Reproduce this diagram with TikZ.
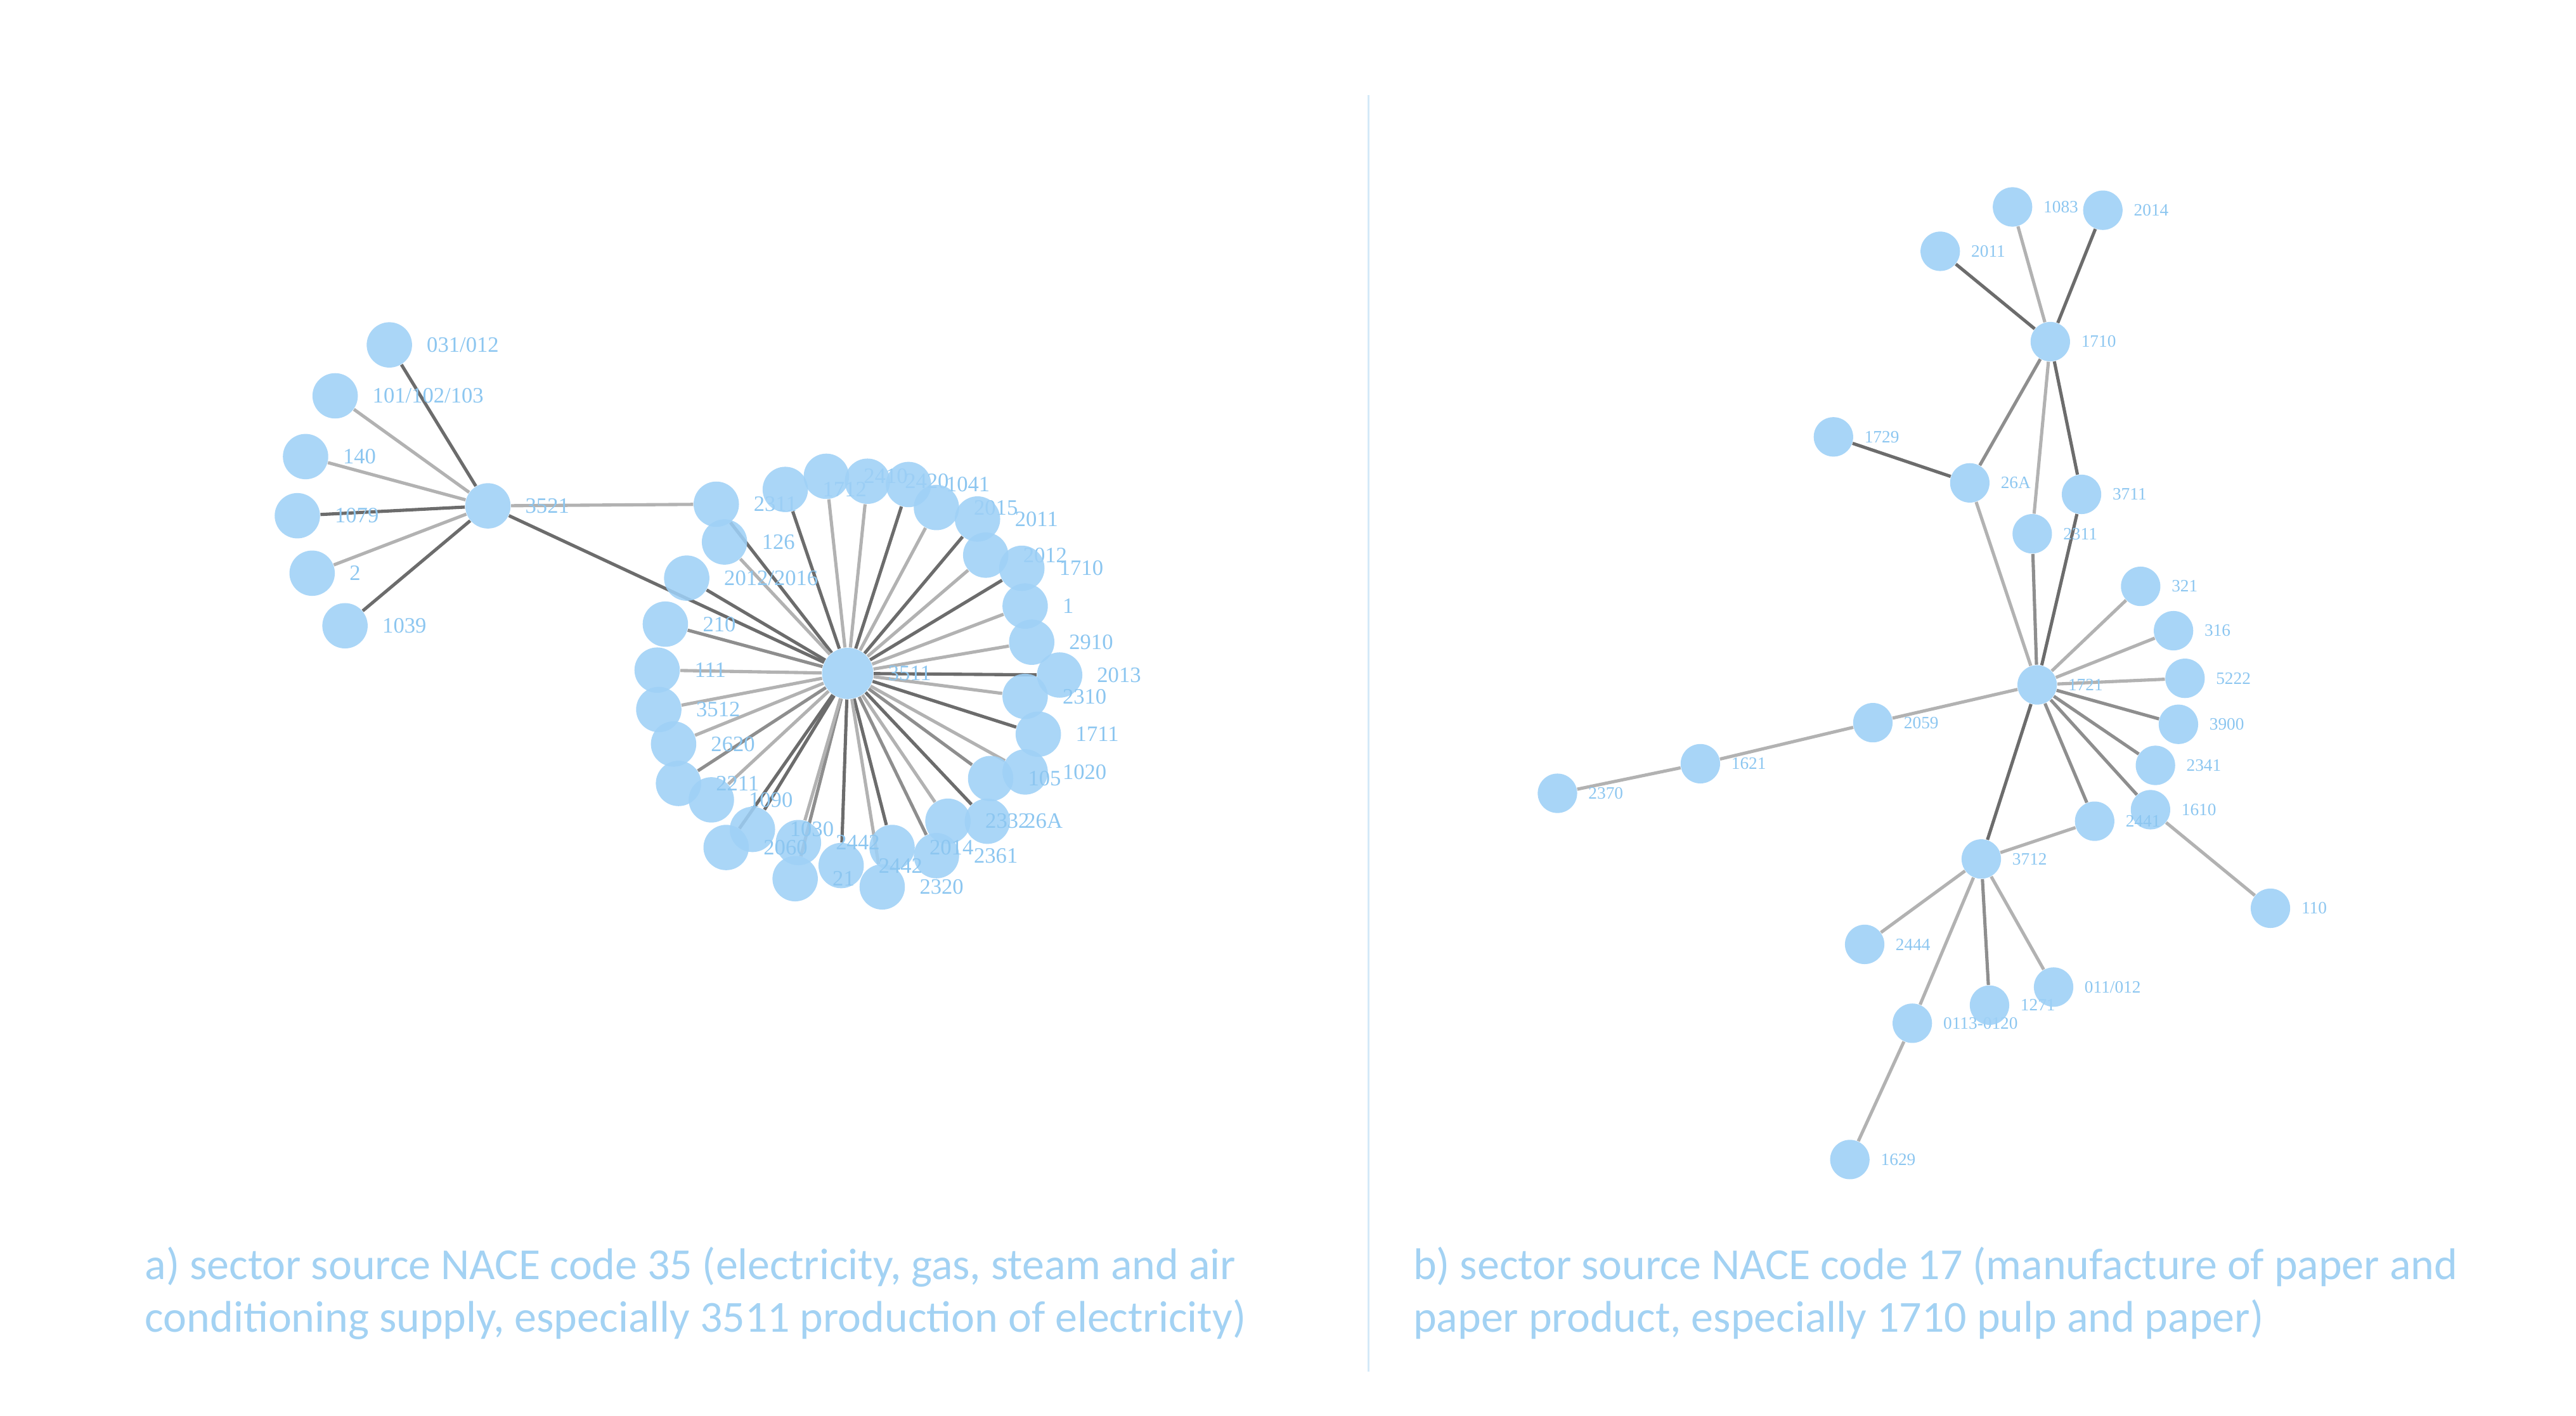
\documentclass[tikz,border=0pt]{standalone}
\usepackage{fontspec}
\setmainfont{Liberation Serif}
\newfontfamily\capfont{Carlito}
\pgfdeclarelayer{background}
\pgfsetlayers{background,main}
\definecolor{nodeblue}{RGB}{158,208,246}
\definecolor{labelblue}{RGB}{140,198,240}
\definecolor{capblue}{RGB}{163,210,243}
\definecolor{sepblue}{RGB}{212,233,248}
\definecolor{edk}{RGB}{108,108,108}
\definecolor{emd}{RGB}{142,142,142}
\definecolor{elt}{RGB}{178,178,178}
\tikzset{
  lnode/.style={circle,fill=nodeblue,fill opacity=0.88,draw=none,minimum size=0.69cm,inner sep=0pt},
  hnode/.style={circle,fill=nodeblue,fill opacity=0.88,draw=none,minimum size=0.78cm,inner sep=0pt},
  rnode/.style={circle,fill=nodeblue,fill opacity=0.9,draw=none,minimum size=0.6cm,inner sep=0pt},
  ltxt/.style={text=labelblue,font=\fontsize{9.5}{10.5}\selectfont,inner sep=0pt,label distance=6pt},
  rtxt/.style={text=labelblue,font=\fontsize{7.5}{8.5}\selectfont,inner sep=0pt,label distance=4.5pt},
  dk/.style={draw=edk,line width=1.4pt},
  md/.style={draw=emd,line width=1.4pt},
  lt/.style={draw=elt,line width=1.4pt},
  captxt/.style={text=capblue,font=\capfont\fontsize{19.2}{23}\selectfont,inner sep=0pt,anchor=base west}
}
\begin{document}
\begin{tikzpicture}[x=0.025cm,y=-0.025cm]
\useasboundingbox (0,0) rectangle (1568,862);
\draw[sepblue,line width=0.7pt] (833,58) -- (833,835);

% ---------- left panel ----------
\node[lnode,label={[ltxt]0:031/012}] (a031) at (237,210) {};
\node[lnode,label={[ltxt]0:101/102/103}] (a101) at (204,241) {};
\node[lnode,label={[ltxt]0:140}] (a140) at (186,278) {};
\node[lnode,label={[ltxt]0:1079}] (a1079) at (181,314) {};
\node[lnode,label={[ltxt]0:2}] (a2) at (190,349) {};
\node[lnode,label={[ltxt]0:1039}] (a1039) at (210,381) {};
\node[lnode,label={[ltxt]0:3521}] (hubA) at (297,308) {};
\node[hnode,label={[ltxt]0:3511}] (hubB) at (516,410) {};

\foreach \n/\x/\y/\t in {
 r1/436/307/2311, r2/478/298/1712, r3/503/290/2410, r4/528/293/2420,
 r5/553/295/1041, r6/570/309/2015, r7/595/316/2011, r8/600/338/2012,
 r9/622/346/1710, r10/624/369/1, r11/628/391/2910, r12/645/411/2013,
 r13/624/424/2310, r14/632/447/1711, r15/624/470/1020, r16/603/474/105,
 r17/601/500/26A, r18/577/500/2332, r19/570/521/2361, r20/543/516/2014,
 r21/537/540/2320, r22/512/527/2442, r23/484/535/21, r24/486/513/2442,
 r25/458/505/1030, r26/442/516/2060, r27/433/487/1090, r28/413/477/2211,
 r29/410/453/2620, r30/401/432/3512, r31/400/408/111, r32/405/380/210,
 r34/441/330/126}
  \node[lnode,label={[ltxt]0:\t}] (\n) at (\x,\y) {};
\node[lnode,label={[ltxt]0:2012/2016}] (r33) at (418,352) {};

\begin{pgfonlayer}{background}
\foreach \a/\s in {a031/dk,a101/lt,a140/lt,a1079/dk,a2/lt,a1039/dk,r1/lt,hubB/dk}
  \draw[\s] (hubA) -- (\a);
\foreach \a/\s in {r1/dk,r2/dk,r3/lt,r4/lt,r5/dk,r6/lt,r7/dk,r8/lt,r9/dk,r10/lt,r11/lt,
  r12/dk,r13/lt,r14/dk,r15/lt,r16/md,r17/dk,r18/lt,r19/md,r20/dk,r21/lt,r22/dk,r23/md,
  r24/lt,r25/dk,r26/dk,r27/lt,r28/md,r29/lt,r30/lt,r31/lt,r32/md,r33/dk,r34/lt}
  \draw[\s] (hubB) -- (\a);
\end{pgfonlayer}

% ---------- right panel ----------
\node[rnode,label={[rtxt]0:1710}] (hubC) at (1248,208) {};
\node[rnode,label={[rtxt]0:1083}] (b1083) at (1225,126) {};
\node[rnode,label={[rtxt]0:2014}] (b2014) at (1280,128) {};
\node[rnode,label={[rtxt]0:2011}] (b2011) at (1181,153) {};
\node[rnode,label={[rtxt]0:26A}] (b26A) at (1199,294) {};
\node[rnode,label={[rtxt]0:1729}] (b1729) at (1116,266) {};
\node[rnode,label={[rtxt]0:3711}] (b3711) at (1267,301) {};
\node[rnode,label={[rtxt]0:2311}] (b2311) at (1237,325) {};
\node[rnode,label={[rtxt]0:1721}] (hubD) at (1240,417) {};
\node[rnode,label={[rtxt]0:321}] (b321) at (1303,357) {};
\node[rnode,label={[rtxt]0:316}] (b316) at (1323,384) {};
\node[rnode,label={[rtxt]0:5222}] (b5222) at (1330,413) {};
\node[rnode,label={[rtxt]0:3900}] (b3900) at (1326,441) {};
\node[rnode,label={[rtxt]0:2341}] (b2341) at (1312,466) {};
\node[rnode,label={[rtxt]0:1610}] (b1610) at (1309,493) {};
\node[rnode,label={[rtxt]0:2441}] (b2441) at (1275,500) {};
\node[rnode,label={[rtxt]0:110}] (b110) at (1382,553) {};
\node[rnode,label={[rtxt]0:2059}] (b2059) at (1140,440) {};
\node[rnode,label={[rtxt]0:1621}] (b1621) at (1035,465) {};
\node[rnode,label={[rtxt]0:2370}] (b2370) at (948,483) {};
\node[rnode,label={[rtxt]0:3712}] (b3712) at (1206,523) {};
\node[rnode,label={[rtxt]0:2444}] (b2444) at (1135,575) {};
\node[rnode,label={[rtxt]0:0113-0120}] (b0113) at (1164,623) {};
\node[rnode,label={[rtxt]0:1271}] (b1271) at (1211,612) {};
\node[rnode,label={[rtxt]0:011/012}] (b011) at (1250,601) {};
\node[rnode,label={[rtxt]0:1629}] (b1629) at (1126,706) {};

\begin{pgfonlayer}{background}
\foreach \a/\s in {b2011/dk,b1083/lt,b2014/dk,b26A/md,b2311/lt,b3711/dk}
  \draw[\s] (hubC) -- (\a);
\draw[dk] (b1729) -- (b26A);
\foreach \a/\s in {b26A/lt,b2311/md,b3711/dk,b321/lt,b316/lt,b5222/lt,b3900/md,
  b2341/md,b1610/md,b2441/md,b3712/dk,b2059/lt}
  \draw[\s] (hubD) -- (\a);
\draw[lt] (b2059) -- (b1621);
\draw[lt] (b1621) -- (b2370);
\draw[lt] (b3712) -- (b2441);
\draw[lt] (b1610) -- (b110);
\foreach \a/\s in {b2444/lt,b0113/lt,b1271/md,b011/lt}
  \draw[\s] (b3712) -- (\a);
\draw[lt] (b0113) -- (b1629);
\end{pgfonlayer}

% ---------- captions ----------
\node[captxt] (capa1) at (88,779) {a) sector source NACE code 35 (electricity, gas, steam and air};
\node[captxt] (capa2) at (88,811) {conditioning supply, especially 3511 production of electricity)};
\node[captxt] (capb1) at (860,779) {b) sector source NACE code 17 (manufacture of paper and};
\node[captxt] (capb2) at (860,811) {paper product, especially 1710 pulp and paper)};
\end{tikzpicture}
\end{document}
